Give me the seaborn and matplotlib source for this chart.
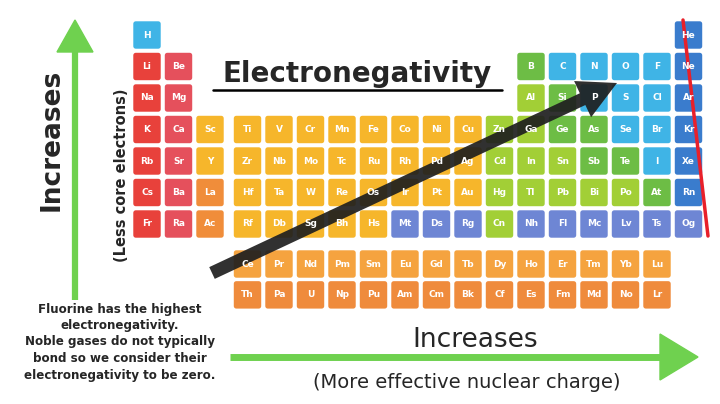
import numpy as np
import pandas as pd
import matplotlib
matplotlib.use("Agg")
import matplotlib.pyplot as plt
from matplotlib.path import Path
from matplotlib.patches import FancyArrow, Polygon
import seaborn as sns

# ---- data ----
main_rows = [
    ["H"] + [""] * 16 + ["He"],
    ["Li", "Be"] + [""] * 10 + ["B", "C", "N", "O", "F", "Ne"],
    ["Na", "Mg"] + [""] * 10 + ["Al", "Si", "P", "S", "Cl", "Ar"],
    ["K", "Ca", "Sc", "Ti", "V", "Cr", "Mn", "Fe", "Co", "Ni", "Cu", "Zn", "Ga", "Ge", "As", "Se", "Br", "Kr"],
    ["Rb", "Sr", "Y", "Zr", "Nb", "Mo", "Tc", "Ru", "Rh", "Pd", "Ag", "Cd", "In", "Sn", "Sb", "Te", "I", "Xe"],
    ["Cs", "Ba", "La", "Hf", "Ta", "W", "Re", "Os", "Ir", "Pt", "Au", "Hg", "Tl", "Pb", "Bi", "Po", "At", "Rn"],
    ["Fr", "Ra", "Ac", "Rf", "Db", "Sg", "Bh", "Hs", "Mt", "Ds", "Rg", "Cn", "Nh", "Fl", "Mc", "Lv", "Ts", "Og"],
]
# category codes: a alkali, e alkaline earth, y transition, o La/Ac, g yellow-green,
# n green, b light blue, v noble, p superheavy
main_cats = [
    "b----------------v",
    "ae----------nbbbbv",
    "ae----------gnbbbv",
    "aeyyyyyyyyyggnnbbv",
    "aeyyyyyyyyygggnnbv",
    "aeoyyyyyyyygggggnv",
    "aeoyyyyypppgpppppp",
]
lanth = ["Ce", "Pr", "Nd", "Pm", "Sm", "Eu", "Gd", "Tb", "Dy", "Ho", "Er", "Tm", "Yb", "Lu"]
actin = ["Th", "Pa", "U", "Np", "Pu", "Am", "Cm", "Bk", "Cf", "Es", "Fm", "Md", "No", "Lr"]
palette = {"a": "#e8413b", "e": "#e5505c", "y": "#f6b62b", "o": "#f08d3a",
           "g": "#a2cf36", "n": "#6dbd45", "b": "#3fb4e6", "v": "#3a7ccd",
           "p": "#6e86d4", "l": "#f5a33f", "c": "#ef8b3c"}

recs = []
for r, (row, cats) in enumerate(zip(main_rows, main_cats)):
    for c, (s, k) in enumerate(zip(row, cats)):
        if s:
            recs.append((s, c + 1, r + 1.0, k))
for i, s in enumerate(lanth):
    recs.append((s, i + 4, 8.27, "l"))
for i, s in enumerate(actin):
    recs.append((s, i + 4, 9.25, "c"))
df = pd.DataFrame(recs, columns=["sym", "col", "row", "cat"])
df["x"] = 147 + (df["col"] - 1) * 31.5 + np.where(df["col"] >= 4, 6, 0)
df["y"] = 35 + (df["row"] - 1) * 31.5

# rounded square marker
def rounded_square(r=0.18, n=6):
    pts = []
    for cx, cy, a0 in [(1 - r, 1 - r, 0), (-1 + r, 1 - r, 90), (-1 + r, -1 + r, 180), (1 - r, -1 + r, 270)]:
        for t in np.linspace(np.radians(a0), np.radians(a0 + 90), n):
            pts.append((cx + r * np.cos(t), cy + r * np.sin(t)))
    pts.append(pts[0])
    return Path(pts, closed=True)

sns.set_theme(style="white")
plt.rcParams["font.family"] = ["DejaVu Sans"]
fig = plt.figure(figsize=(7.2, 4.04), dpi=100)
ax = fig.add_axes([0, 0, 1, 1])
sns.scatterplot(data=df, x="x", y="y", hue="cat", palette=palette, marker=rounded_square(),
                s=390, linewidth=0, legend=False, ax=ax)
for _, rw in df.iterrows():
    ax.text(rw.x, rw.y, rw.sym, color="white", fontsize=6.5, fontweight="bold",
            ha="center", va="center")
ax.set_xlim(0, 720)
ax.set_ylim(404, 0)
ax.axis("off")

green = "#6fd14f"
# left vertical arrow
ax.plot([75, 75], [300, 50], color=green, lw=4.5, solid_capstyle="butt")
ax.add_patch(Polygon([[57, 52], [93, 52], [75, 20]], closed=True, color=green))
# bottom arrow
ax.plot([230, 662], [357, 357], color=green, lw=5, solid_capstyle="butt")
ax.add_patch(Polygon([[660, 334], [660, 380], [698, 357]], closed=True, color=green))

ax.text(52, 140, "Increases", rotation=90, fontsize=19, fontweight="bold", ha="center", va="center")
ax.text(121, 175, "(Less core electrons)", rotation=90, fontsize=10.5, fontweight="bold",
        ha="center", va="center")
ax.text(475, 340, "Increases", fontsize=19, ha="center", va="center", fontweight="medium")
ax.text(467, 382, "(More effective nuclear charge)", fontsize=14, ha="center", va="center",
        fontweight="medium")
ax.text(120, 342, "Fluorine has the highest\nelectronegativity.\nNoble gases do not typically\n"
        "bond so we consider their\nelectronegativity to be zero.", fontsize=8.6,
        fontweight="bold", ha="center", va="center", linespacing=1.35)
ax.text(357, 74, "Electronegativity", fontsize=20, fontweight="bold", ha="center", va="center")
ax.plot([213, 502], [90, 90], color="black", lw=1.8)

# black arrow
ax.add_patch(FancyArrow(212, 273, 405, -190, width=13, head_width=40, head_length=38,
                        length_includes_head=True, color="#1f1f1f", alpha=0.92, lw=0))
# red line
ax.plot([683, 708], [20, 236], color="#e8202a", lw=2.5)

fig.savefig("out.png", dpi=100)
